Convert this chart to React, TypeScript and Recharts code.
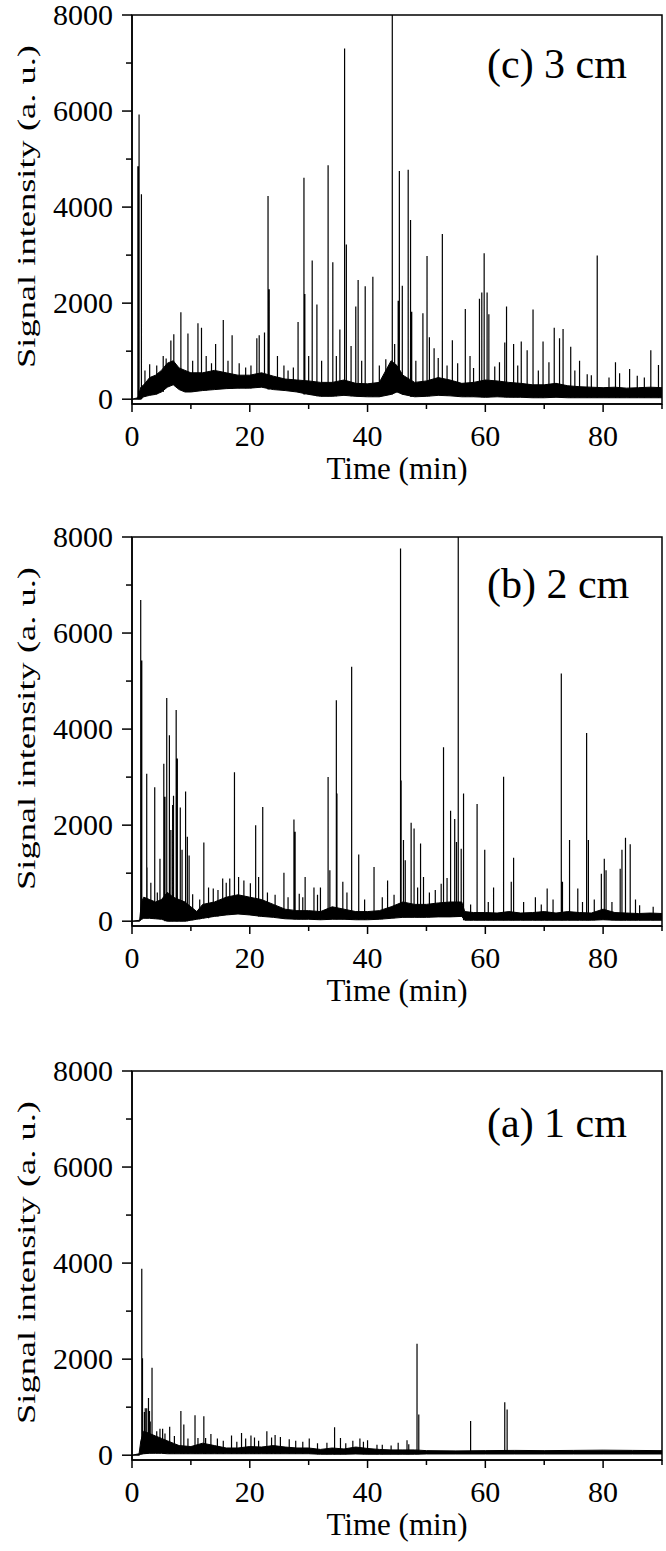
import React from "react";
import {
  ComposedChart,
  Area,
  Line,
  XAxis,
  YAxis,
  ReferenceArea,
} from "recharts";

const FONT = '"Liberation Serif", "Times New Roman", serif';
const INK = "#000";

const X_TICKS = [0, 10, 20, 30, 40, 50, 60, 70, 80, 90];
const Y_TICKS = [0, 1000, 2000, 3000, 4000, 5000, 6000, 7000, 8000];

// (c) 3 cm -- dense noise band (lower / upper edge) and resolved peaks
const bandTimeC = [0, 1, 1.5, 2, 3, 4, 5, 6, 7, 8, 9, 10, 12, 14, 16, 18, 20, 22, 24, 26, 28, 30, 32, 34, 36, 38, 40, 42, 44, 45, 46, 48, 50, 52, 54, 56, 58, 60, 62, 64, 66, 68, 70, 72, 74, 76, 78, 80, 82, 84, 86, 88, 90];
const bandLowC = [0, 0, 0, 50, 80, 100, 150, 250, 300, 200, 150, 150, 180, 200, 220, 230, 230, 250, 200, 180, 150, 100, 60, 60, 80, 60, 50, 50, 100, 150, 100, 50, 60, 80, 70, 50, 50, 40, 50, 40, 40, 30, 30, 40, 30, 30, 30, 30, 30, 30, 30, 30, 30];
const bandHighC = [0, 30, 250, 300, 450, 500, 600, 750, 800, 650, 600, 550, 550, 600, 550, 500, 500, 550, 480, 420, 400, 380, 350, 350, 400, 330, 320, 350, 800, 700, 500, 350, 380, 450, 400, 330, 350, 400, 380, 350, 330, 300, 300, 330, 280, 260, 250, 240, 250, 230, 240, 250, 240];
const peakTimeC = [1.0, 1.2, 1.6, 3.0, 6.6, 7.1, 8.3, 9.5, 11.2, 11.8, 14.2, 15.5, 17.0, 19.3, 21.2, 21.6, 22.5, 23.1, 23.3, 24.7, 27.4, 28.2, 29.2, 29.35, 30.6, 31.4, 33.3, 34.1, 35.3, 36.1, 36.4, 37.2, 38.0, 38.4, 39.6, 40.9, 43.1, 44.2, 44.6, 45.2, 45.4, 45.9, 46.9, 47.3, 47.5, 49.4, 50.1, 50.5, 51.3, 52.0, 52.7, 54.4, 56.6, 57.4, 59.0, 59.4, 59.8, 60.3, 60.6, 61.6, 62.4, 63.3, 63.6, 64.8, 66.1, 67.1, 68.1, 69.8, 70.8, 71.7, 72.6, 73.2, 74.5, 76.0, 77.3, 79.0, 82.1, 82.8, 84.5, 85.8, 88.1, 89.4];
const peakHeightC = [4850, 5930, 4270, 730, 1220, 1350, 1810, 1370, 1580, 1490, 1150, 1650, 1330, 660, 1270, 1330, 1390, 4230, 2290, 900, 660, 1610, 4610, 2190, 2890, 1970, 4870, 2850, 1450, 7300, 3220, 1110, 1930, 2480, 2350, 2550, 830, 8000, 1150, 2050, 4750, 2360, 4780, 3730, 1820, 1790, 2980, 1290, 1060, 860, 3440, 1230, 1880, 900, 2090, 2220, 3040, 2220, 1770, 680, 770, 1180, 1930, 1150, 1200, 1020, 1870, 1200, 770, 1490, 1270, 1460, 1090, 800, 520, 2990, 770, 540, 630, 490, 1020, 710];
const smallPeakTimeC = [2.2, 4.2, 5.3, 5.8, 10.3, 12.6, 13.5, 16.3, 18.2, 20.2, 25.8, 26.5, 30.0, 32.2, 34.7, 39.0, 42.0, 48.2, 53.5, 55.3, 58.0, 65.5, 69.0, 75.2, 78.0, 81.0, 87.0];
const smallPeakHeightC = [600, 700, 900, 850, 800, 900, 750, 800, 750, 700, 700, 600, 900, 800, 900, 800, 700, 800, 700, 750, 650, 700, 600, 600, 500, 450, 450];

// (b) 2 cm
const bandTimeB = [0, 1.3, 1.6, 2, 3, 4, 5, 6, 7, 8, 9, 10, 11, 12, 14, 16, 18, 20, 22, 24, 26, 28, 30, 32, 34, 36, 38, 40, 42, 44, 46, 48, 50, 52, 54, 56, 56.5, 58, 60, 62, 64, 66, 68, 70, 72, 74, 76, 78, 80, 82, 84, 86, 88, 90];
const bandLowB = [0, 0, 40, 60, 60, 50, 40, 0, 0, 0, 0, 20, 40, 60, 100, 130, 150, 130, 100, 80, 50, 40, 40, 30, 40, 40, 30, 30, 40, 60, 80, 80, 80, 90, 90, 100, 20, 20, 20, 20, 20, 20, 20, 20, 20, 20, 20, 20, 30, 20, 20, 20, 20, 20];
const bandHighB = [0, 20, 400, 500, 450, 400, 450, 600, 500, 450, 400, 300, 200, 350, 400, 500, 550, 500, 450, 350, 250, 220, 220, 200, 300, 250, 200, 200, 220, 300, 400, 350, 350, 380, 400, 400, 200, 180, 180, 170, 200, 170, 180, 200, 170, 200, 180, 170, 250, 180, 170, 160, 170, 160];
const peakTimeB = [1.48, 1.66, 2.5, 2.55, 3.86, 4.75, 5.4, 5.6, 5.9, 6.35, 6.6, 6.9, 7.05, 7.5, 7.7, 8.2, 8.5, 9.1, 9.4, 9.7, 10.3, 12.2, 13.8, 15.4, 16.6, 17.4, 18.1, 20.1, 21.0, 21.5, 22.2, 24.3, 25.8, 27.5, 27.7, 28.4, 29.4, 30.9, 32.0, 33.3, 33.6, 34.7, 34.8, 35.8, 37.3, 38.5, 41.1, 43.4, 45.6, 45.7, 46.1, 46.4, 47.4, 47.9, 49.0, 49.5, 52.5, 52.9, 54.1, 54.8, 55.1, 55.4, 55.9, 56.3, 58.6, 59.9, 61.4, 63.1, 64.4, 64.8, 68.5, 70.5, 71.5, 72.9, 73.1, 74.3, 75.7, 77.2, 77.5, 79.7, 80.2, 80.5, 82.9, 83.2, 83.8, 84.6, 86.2];
const peakHeightB = [6690, 5430, 3070, 1120, 2790, 1300, 3280, 2590, 4650, 3870, 1900, 2420, 2610, 4400, 3390, 2370, 1490, 2700, 1760, 1370, 560, 1640, 680, 890, 890, 3100, 920, 790, 2000, 920, 2380, 550, 1010, 2120, 1860, 570, 920, 700, 700, 3000, 1060, 4600, 2660, 820, 5300, 1390, 1130, 850, 7760, 2930, 1690, 1270, 2050, 1930, 1620, 920, 780, 3620, 2300, 2130, 1650, 8000, 1510, 2660, 2440, 1490, 700, 3010, 820, 1320, 500, 680, 450, 5160, 820, 1690, 680, 3920, 1690, 990, 1300, 1060, 1090, 1490, 1740, 1600, 330];
const smallPeakTimeB = [3.2, 4.3, 11.5, 13.0, 14.6, 16.0, 19.0, 23.0, 26.5, 29.0, 31.5, 36.5, 39.5, 42.5, 44.5, 48.5, 50.5, 51.5, 53.5, 57.5, 60.5, 66.5, 69.5, 76.5, 78.5, 81.5, 85.5, 88.5];
const smallPeakHeightB = [800, 600, 450, 700, 650, 800, 850, 600, 500, 500, 550, 600, 450, 500, 550, 700, 600, 650, 900, 350, 400, 400, 350, 400, 450, 400, 450, 300];

// (a) 1 cm
const bandTimeA = [0, 1.2, 1.5, 2, 3, 4, 5, 6, 7, 8, 10, 12, 14, 16, 18, 20, 22, 24, 26, 28, 30, 32, 34, 36, 38, 40, 42, 44, 46, 48, 50, 55, 60, 65, 70, 75, 80, 85, 90];
const bandLowA = [0, 0, 20, 30, 40, 40, 40, 30, 30, 30, 30, 30, 30, 30, 30, 30, 30, 30, 30, 30, 30, 20, 20, 20, 25, 20, 20, 20, 20, 20, 25, 25, 25, 25, 25, 25, 25, 25, 25];
const bandHighA = [0, 30, 300, 500, 450, 400, 350, 300, 250, 200, 180, 250, 200, 150, 150, 180, 170, 200, 170, 150, 150, 120, 150, 130, 170, 140, 120, 110, 110, 110, 95, 90, 95, 100, 95, 100, 105, 100, 95];
const peakTimeA = [1.66, 1.78, 2.25, 2.5, 2.8, 2.97, 3.4, 3.9, 4.75, 5.2, 6.4, 8.3, 8.8, 10.7, 11.2, 12.2, 12.5, 13.4, 16.9, 18.6, 20.2, 20.8, 22.9, 23.7, 25.2, 26.7, 30.1, 33.1, 34.4, 35.4, 38.7, 40.0, 41.6, 45.2, 46.7, 48.4, 48.7, 57.5, 63.3, 63.7];
const peakHeightA = [3880, 2020, 980, 980, 1190, 920, 1820, 400, 550, 550, 590, 920, 640, 830, 360, 810, 360, 440, 410, 460, 410, 370, 500, 370, 380, 330, 350, 260, 580, 360, 350, 310, 220, 260, 310, 2320, 850, 710, 1100, 950];
const smallPeakTimeA = [2.1, 3.1, 4.2, 5.6, 7.2, 9.5, 14.5, 15.5, 17.8, 19.3, 21.5, 24.3, 27.8, 29.0, 31.5, 36.3, 37.5, 39.3, 42.5, 44.0, 47.0];
const smallPeakHeightA = [900, 700, 500, 450, 400, 350, 350, 300, 280, 350, 300, 420, 300, 280, 250, 250, 300, 280, 220, 200, 230];

function buildBand(times: number[], low: number[], high: number[]) {
  return times.map((t, i) => ({ t, range: [low[i], high[i]] }));
}

// each peak is a vertical stroke rising from the band floor, broken by a null
function buildSpikes(times: number[], heights: number[], bandTime: number[], bandLow: number[]) {
  const out: { t: number; v: number | null }[] = [];
  times.forEach((t, i) => {
    let k = 0;
    bandTime.forEach((bt, j) => {
      if (Math.abs(bt - t) < Math.abs(bandTime[k] - t)) k = j;
    });
    out.push({ t, v: bandLow[k] }, { t, v: heights[i] }, { t, v: null });
  });
  return out;
}

function XTick(props: any) {
  const { x, y, payload } = props;
  const v = payload.value;
  const major = v % 20 === 0;
  return (
    <g>
      <line x1={x} x2={x} y1={y} y2={y + (major ? 8 : 5)} stroke={INK} strokeWidth={1.5} />
      {major && (
        <text x={x} y={y + 42} textAnchor="middle" fontSize={30} fontFamily={FONT} fill={INK}>
          {v}
        </text>
      )}
    </g>
  );
}

function YTick(props: any) {
  const { x, y, payload } = props;
  const v = payload.value;
  const major = v % 2000 === 0;
  return (
    <g>
      <line x1={x - (major ? 10 : 6)} x2={x} y1={y} y2={y} stroke={INK} strokeWidth={1.5} />
      {major && (
        <text x={x - 19} y={y + 10} textAnchor="end" fontSize={30} fontFamily={FONT} fill={INK}>
          {v}
        </text>
      )}
    </g>
  );
}

function yLabel(p: any) {
  const vb = p.viewBox || { x: 0, y: 25, width: 132, height: 389 };
  const cx = vb.x + 35;
  const cy = vb.y + vb.height / 2 - 3;
  return (
    <text
      x={cx}
      y={cy}
      transform={`rotate(-90 ${cx} ${cy})`}
      textAnchor="middle"
      fontSize={26}
      fontFamily={FONT}
      fill={INK}
      textLength={323}
      lengthAdjust="spacingAndGlyphs"
    >
      Signal intensity (a. u.)
    </text>
  );
}

function xLabel(p: any) {
  const vb = p.viewBox || { x: 132, y: 414, width: 530, height: 80 };
  return (
    <text x={vb.x + vb.width / 2} y={vb.y + 75} textAnchor="middle" fontSize={31} fontFamily={FONT} fill={INK}>
      Time (min)
    </text>
  );
}

function Panel({ tag, tagDy, band, spikes }: { tag: string; tagDy: number; band: any[]; spikes: any[] }) {
  const tagLabel = (p: any) => {
    const vb = p.viewBox || { x: 132, y: 25, width: 530, height: 389 };
    return (
      <text x={vb.x + vb.width - 175} y={vb.y + tagDy} fontSize={42} fontFamily={FONT} fill={INK}>
        {tag}
      </text>
    );
  };
  return (
    <ComposedChart width={666} height={510} margin={{ top: 25, right: 4, bottom: 16, left: 0 }}>
      <XAxis
        type="number"
        dataKey="t"
        domain={[0, 90]}
        ticks={X_TICKS}
        interval={0}
        allowDataOverflow
        height={80}
        tickSize={0}
        tickMargin={0}
        tickLine={false}
        tick={XTick}
        axisLine={{ stroke: INK, strokeWidth: 1.5 }}
        label={xLabel}
      />
      <YAxis
        type="number"
        domain={[-100, 8000]}
        ticks={Y_TICKS}
        interval={0}
        allowDataOverflow
        width={132}
        tickSize={0}
        tickMargin={0}
        tickLine={false}
        tick={YTick}
        axisLine={{ stroke: INK, strokeWidth: 1.5 }}
        label={yLabel}
      />
      <ReferenceArea
        x1={0}
        x2={90}
        y1={-100}
        y2={8000}
        fill="none"
        stroke={INK}
        strokeWidth={1.5}
        label={tagLabel}
      />
      <Area
        data={band}
        dataKey="range"
        type="linear"
        stroke={INK}
        strokeWidth={1}
        fill={INK}
        fillOpacity={1}
        dot={false}
        activeDot={false}
        isAnimationActive={false}
      />
      <Line
        data={spikes}
        dataKey="v"
        type="linear"
        stroke={INK}
        strokeWidth={1.2}
        dot={false}
        activeDot={false}
        connectNulls={false}
        isAnimationActive={false}
      />
    </ComposedChart>
  );
}

export default function App() {
  const panels = [
    {
      tag: "(c) 3 cm",
      tagDy: 63,
      top: 0,
      band: buildBand(bandTimeC, bandLowC, bandHighC),
      spikes: buildSpikes(peakTimeC.concat(smallPeakTimeC), peakHeightC.concat(smallPeakHeightC), bandTimeC, bandLowC),
    },
    {
      tag: "(b) 2 cm",
      tagDy: 61,
      top: 522,
      band: buildBand(bandTimeB, bandLowB, bandHighB),
      spikes: buildSpikes(peakTimeB.concat(smallPeakTimeB), peakHeightB.concat(smallPeakHeightB), bandTimeB, bandLowB),
    },
    {
      tag: "(a) 1 cm",
      tagDy: 66,
      top: 1056,
      band: buildBand(bandTimeA, bandLowA, bandHighA),
      spikes: buildSpikes(peakTimeA.concat(smallPeakTimeA), peakHeightA.concat(smallPeakHeightA), bandTimeA, bandLowA),
    },
  ];
  return (
    <div style={{ position: "absolute", left: 0, top: 0, width: 666, height: 1551, background: "#fff", overflow: "hidden" }}>
      {panels.map((p) => (
        <div key={p.tag} style={{ position: "absolute", left: 0, top: p.top - 10, width: 666, height: 510 }}>
          <Panel tag={p.tag} tagDy={p.tagDy} band={p.band} spikes={p.spikes} />
        </div>
      ))}
    </div>
  );
}
